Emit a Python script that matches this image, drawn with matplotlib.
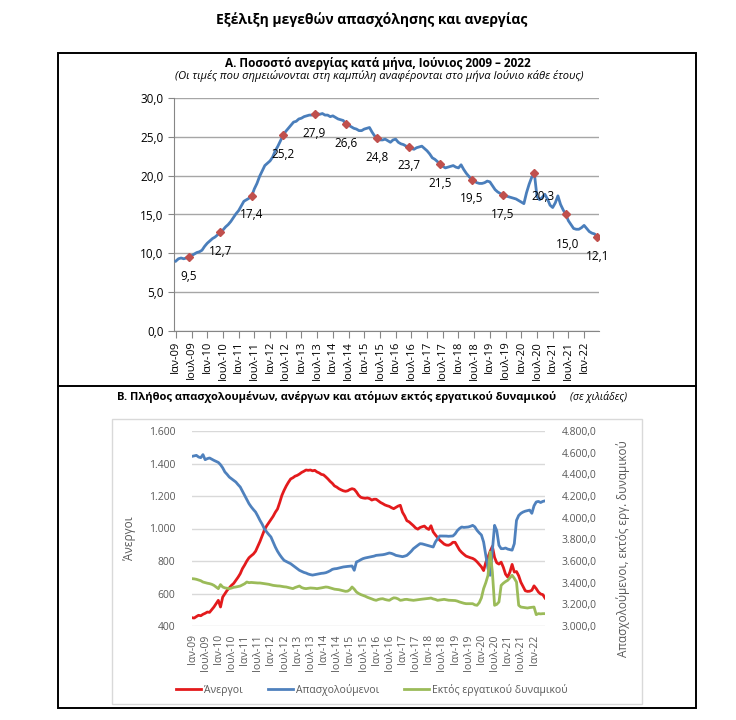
import numpy as np
import matplotlib
matplotlib.use('Agg')
import matplotlib.pyplot as plt
from matplotlib.patches import Rectangle
from matplotlib.lines import Line2D
from matplotlib.ticker import FuncFormatter

plt.rcParams['font.family'] = ['Open Sans', 'Noto Sans', 'DejaVu Sans']

# ---- data (Jan 2009 - Jun 2022, monthly) ----
# A. unemployment rate %
rate = [
    9.0, 9.3, 9.4, 9.3, 9.4, 9.5, 9.7, 9.9, 10.1, 10.2, 10.4, 10.9,
    11.3, 11.6, 11.9, 12.1, 12.4, 12.7, 13.0, 13.4, 13.7, 14.1, 14.6, 15.1,
    15.5, 16.1, 16.7, 16.9, 17.1, 17.4, 18.3, 19.0, 19.9, 20.6, 21.3, 21.6,
    21.9, 22.4, 23.2, 23.8, 24.5, 25.2, 25.7, 26.1, 26.5, 26.9, 27.0, 27.3,
    27.4, 27.6, 27.7, 27.8, 27.8, 27.9, 28.0, 27.9, 28.0, 27.8, 27.8, 27.6,
    27.7, 27.5, 27.3, 27.2, 27.1, 26.6, 26.5, 26.3, 26.1, 26.0, 25.8, 25.8,
    26.0, 26.1, 26.2, 25.6, 25.1, 24.8, 24.6, 24.6, 24.7, 24.5, 24.3, 24.6,
    24.7, 24.3, 24.1, 24.0, 23.8, 23.7, 23.5, 23.4, 23.6, 23.7, 23.8, 23.5,
    23.2, 22.8, 22.3, 22.1, 21.8, 21.5, 21.2, 21.0, 21.1, 21.2, 21.3, 21.1,
    21.0, 21.4, 20.8, 20.3, 19.9, 19.5, 19.3, 19.1, 19.0, 19.0, 19.1, 19.3,
    19.2, 18.7, 18.2, 17.9, 17.7, 17.5, 17.4, 17.3, 17.2, 17.1, 17.0, 16.8,
    16.6, 16.4, 17.8, 18.9, 19.8, 20.3, 17.3, 16.9, 17.2, 17.6, 17.0, 16.2,
    15.9, 16.5, 17.4, 16.3, 15.6, 15.0, 14.2, 13.7, 13.2, 13.1, 13.1, 13.3,
    13.6, 13.2, 12.8, 12.6, 12.5, 12.1,
]

# B. thousands of persons
unemployed = [
    451, 449, 458, 466, 463, 472, 478, 486, 484, 500, 517, 537,
    558, 517, 578, 598, 619, 635, 650, 662, 681, 700, 722, 753,
    775, 800, 820, 832, 843, 860, 890, 920, 955, 990, 1015, 1035,
    1055, 1075, 1100, 1120, 1160, 1204, 1235, 1262, 1285, 1305, 1312, 1322,
    1327, 1335, 1345, 1352, 1360, 1358, 1360, 1355, 1358, 1348, 1342, 1333,
    1330, 1318, 1305, 1290, 1278, 1262, 1255, 1245, 1238, 1232, 1229, 1232,
    1240, 1245, 1241, 1225, 1204, 1192, 1188, 1186, 1188, 1184, 1175, 1180,
    1180, 1170, 1160, 1153, 1145, 1140, 1136, 1128, 1122, 1130, 1138, 1143,
    1100, 1077, 1048, 1041, 1029, 1017, 1003, 996, 1006, 1011, 1015, 1002,
    994, 1017, 979, 961, 945, 928, 916, 904, 898, 897, 903, 915,
    915, 892, 868, 853, 841, 830, 825, 820, 816, 808, 795, 779,
    764, 741, 791, 823, 860, 890, 822, 789, 781, 793, 761, 719,
    701, 732, 779, 732, 735, 709, 669, 643, 617, 613, 614, 620,
    647, 630, 609, 597, 593, 572,
]
employed = [
    4566, 4570, 4575, 4560, 4554, 4582, 4535, 4545, 4551, 4540, 4529, 4520,
    4510, 4489, 4460, 4422, 4400, 4375, 4360, 4345, 4329, 4305, 4283, 4245,
    4206, 4170, 4129, 4100, 4075, 4052, 4015, 3975, 3940, 3898, 3870, 3845,
    3822, 3775, 3729, 3690, 3658, 3630, 3606, 3595, 3585, 3575, 3560, 3545,
    3530, 3514, 3505, 3495, 3489, 3480, 3474, 3470, 3474, 3478, 3483, 3486,
    3488, 3492, 3500, 3510, 3523, 3528, 3530, 3535, 3540, 3545, 3548, 3550,
    3552, 3554, 3514, 3591, 3600, 3612, 3622, 3628, 3632, 3637, 3640, 3645,
    3652, 3654, 3656, 3658, 3662, 3668, 3674, 3670, 3662, 3652, 3648, 3643,
    3640, 3645, 3652, 3670, 3690, 3714, 3730, 3745, 3760, 3758, 3752, 3745,
    3740, 3735, 3729, 3775, 3805, 3831, 3831, 3832, 3830, 3828, 3830, 3831,
    3850, 3880, 3900, 3914, 3910, 3912, 3914, 3920, 3929, 3915, 3883, 3860,
    3840, 3775, 3652, 3530, 3468, 3700, 3929, 3880, 3745, 3714, 3714, 3720,
    3710, 3705, 3700, 3760, 3975, 4020, 4040, 4052, 4060, 4065, 4070, 4040,
    4110, 4145, 4150, 4140, 4150, 4155,
]
outside_lf = [
    3437, 3435, 3431, 3425, 3418, 3406, 3400, 3395, 3391, 3385, 3375, 3360,
    3345, 3382, 3360, 3352, 3348, 3345, 3350, 3357, 3360, 3365, 3369, 3380,
    3390, 3406, 3400, 3402, 3400, 3398, 3397, 3397, 3394, 3391, 3388, 3385,
    3380, 3375, 3372, 3370, 3369, 3365, 3362, 3360, 3355, 3350, 3345, 3355,
    3362, 3369, 3355, 3348, 3345, 3348, 3351, 3350, 3348, 3345, 3348, 3352,
    3356, 3360, 3358, 3352, 3345, 3340, 3338, 3335, 3330, 3325, 3320, 3322,
    3335, 3360, 3340, 3314, 3300, 3290, 3283, 3275, 3265, 3258, 3250, 3242,
    3237, 3245, 3250, 3252, 3245, 3240, 3237, 3250, 3260, 3258, 3250, 3237,
    3240, 3245, 3246, 3242, 3240, 3237, 3240, 3243, 3246, 3248, 3250, 3252,
    3255, 3258, 3250, 3245, 3237, 3240, 3244, 3246, 3242, 3238, 3237, 3235,
    3235, 3230, 3222, 3216, 3210, 3206, 3206, 3205, 3206, 3195, 3191, 3215,
    3260, 3345, 3400, 3468, 3683, 3498, 3191, 3200, 3222, 3375, 3395, 3410,
    3422, 3445, 3468, 3440, 3406, 3191, 3175, 3172, 3168, 3166, 3170, 3172,
    3175, 3105, 3114, 3112, 3114, 3114,
]

tick_labels = [
    'Ιαν-09', 'Ιουλ-09', 'Ιαν-10', 'Ιουλ-10', 'Ιαν-11', 'Ιουλ-11', 'Ιαν-12',
    'Ιουλ-12', 'Ιαν-13', 'Ιουλ-13', 'Ιαν-14', 'Ιουλ-14', 'Ιαν-15', 'Ιουλ-15',
    'Ιαν-16', 'Ιουλ-16', 'Ιαν-17', 'Ιουλ-17', 'Ιαν-18', 'Ιουλ-18', 'Ιαν-19',
    'Ιουλ-19', 'Ιαν-20', 'Ιουλ-20', 'Ιαν-21', 'Ιουλ-21', 'Ιαν-22',
]
legend_names = ['Άνεργοι', 'Απασχολούμενοι', 'Εκτός εργατικού δυναμικού']

W, H = 736, 720
fig = plt.figure(figsize=(W / 100, H / 100), dpi=100)


def box(x0, y0, x1, y1):
    return [x0 / W, 1 - y1 / H, (x1 - x0) / W, (y1 - y0) / H]


# frame and titles
fig.add_artist(Rectangle((58 / W, 1 - 708 / H), 638 / W, 655 / H, transform=fig.transFigure,
                         fill=False, ec='black', lw=1.4))
fig.add_artist(Line2D([58 / W, 696 / W], [1 - 386 / H] * 2, color='black', lw=1.4))
fig.add_artist(Rectangle((112 / W, 1 - 704 / H), 530 / W, 285 / H, transform=fig.transFigure,
                         fill=False, ec='#D9D9D9', lw=1))

fig.text(372 / W, 1 - 20 / H, 'Εξέλιξη μεγεθών απασχόλησης και ανεργίας',
         ha='center', va='center', fontsize=10, fontweight='bold')
fig.text(378 / W, 1 - 63 / H, 'Α. Ποσοστό ανεργίας κατά μήνα, Ιούνιος 2009 – 2022',
         ha='center', va='center', fontsize=8.5, fontweight='bold')
fig.text(379 / W, 1 - 76 / H,
         '(Οι τιμές που σημειώνονται στη καμπύλη αναφέρονται στο μήνα Ιούνιο κάθε έτους)',
         ha='center', va='center', fontsize=8, style='italic')
tB = fig.text(117 / W, 1 - 397 / H,
              'Β. Πλήθος απασχολουμένων, ανέργων και ατόμων εκτός εργατικού δυναμικού',
              ha='left', va='center', fontsize=8, fontweight='bold')

x = np.arange(len(rate))
tick_pos = np.arange(0, 6 * len(tick_labels), 6)

# ---- panel A ----
axA = fig.add_axes(box(174, 98, 599, 331))
rate_arr = np.array(rate)
june = np.arange(5, len(rate), 12)
axA.plot(x, rate_arr, color='#4A7EBB', lw=2, zorder=3)
axA.plot(june, rate_arr[june], 'D', color='#C0504D', ms=4.5, zorder=4)
offsets = {11: (9, -23), 12: (2, -30)}
for k, j in enumerate(june):
    dx, dy = offsets.get(k, (0, -19))
    axA.annotate(f'{rate_arr[j]:.1f}'.replace('.', ','), (j, rate_arr[j]),
                 xytext=(dx, dy), textcoords='offset pixels',
                 ha='center', va='center', fontsize=8.5)
axA.set_xlim(-0.7, len(rate) - 0.3)
axA.set_ylim(0, 30)
axA.set_yticks(np.arange(0, 31, 5))
axA.yaxis.set_major_formatter(FuncFormatter(lambda v, _: f'{v:.1f}'.replace('.', ',')))
axA.grid(axis='y', color='#A6A6A6', lw=1)
axA.set_axisbelow(True)
for s in ('top', 'right'):
    axA.spines[s].set_visible(False)
for s in ('left', 'bottom'):
    axA.spines[s].set_color('#868686')
axA.set_xticks(tick_pos)
axA.set_xticklabels(tick_labels, rotation=90, fontsize=8)
axA.tick_params(axis='y', labelsize=8.5, length=4, color='#868686')
axA.tick_params(axis='x', length=5, color='#868686', pad=2)

# ---- panel B ----
axB = fig.add_axes(box(192, 431, 545, 626))
# italic note right after the bold panel B title
axB.annotate('(σε χιλιάδες)', xy=(1, 0.5), xycoords=tB, xytext=(14, 0),
             textcoords='offset pixels', ha='left', va='center',
             fontsize=7.5, style='italic', annotation_clip=False)
red, = axB.plot(x, unemployed, color='#E31A1C', lw=2)
axB2 = axB.twinx()
blue, = axB2.plot(x, employed, color='#4F81BD', lw=2)
green, = axB2.plot(x, outside_lf, color='#9BBB59', lw=2)
axB.set_xlim(0, len(x) - 1)
axB.set_ylim(400, 1600)
axB2.set_ylim(3000, 4800)
axB.set_yticks(np.arange(400, 1601, 200))
axB2.set_yticks(np.arange(3000, 4801, 200))
axB.yaxis.set_major_formatter(FuncFormatter(lambda v, _: f'{v:,.0f}'.replace(',', '.')))
axB2.yaxis.set_major_formatter(FuncFormatter(
    lambda v, _: f'{v:,.1f}'.replace(',', ' ').replace('.', ',').replace(' ', '.')))
axB.grid(axis='y', color='#D9D9D9', lw=1)
axB.set_axisbelow(True)
for a in (axB, axB2):
    for s in a.spines.values():
        s.set_visible(False)
    a.tick_params(length=0, labelsize=7.5, labelcolor='#595959')
axB.tick_params(axis='y', pad=12)
axB2.tick_params(axis='y', pad=12)
axB.set_xticks(tick_pos)
axB.set_xticklabels(tick_labels, rotation=90, fontsize=7.5)
axB.tick_params(axis='x', pad=6)

fig.text(130 / W, 1 - 538 / H, 'Άνεργοι', rotation=90, ha='center', va='center',
         fontsize=8.5, color='#595959')
fig.text(623 / W, 1 - 549 / H, 'Απασχολούμενοι, εκτός εργ. δυναμικού', rotation=90,
         ha='center', va='center', fontsize=8.5, color='#595959')

fig.legend([red, blue, green], legend_names, loc='center', ncol=3,
           bbox_to_anchor=(372 / W, 1 - 690 / H), frameon=False, fontsize=7.5,
           handlelength=2.4, columnspacing=2.4, handletextpad=0.3,
           labelcolor='#595959')

fig.savefig('out.png', dpi=100)
